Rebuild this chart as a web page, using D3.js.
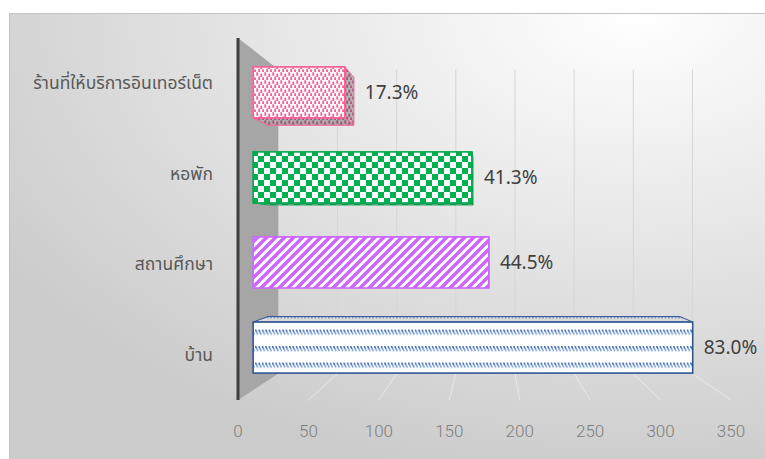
<!DOCTYPE html>
<html>
<head>
<meta charset="utf-8">
<script src="https://cdn.jsdelivr.net/npm/d3@7"></script>
<style>
  html, body { margin: 0; padding: 0; background: #ffffff; }
  svg { display: block; }
</style>
</head>
<body>
<svg id="chart" width="765" height="459"></svg>
<script>
// Places where respondents use the internet (top to bottom)
const categories = ['ร้านที่ให้บริการอินเทอร์เน็ต', 'หอพัก', 'สถานศึกษา', 'บ้าน'];
// Share of respondents, percent
const percents = [17.3, 41.3, 44.5, 83.0];
// Number of respondents; bar length is the count of respondents
const respondents = 400;
// Value axis tick labels
const xTicks = [0, 50, 100, 150, 200, 250, 300, 350];

const svg = d3.select('#chart');
const defs = svg.append('defs');

const labelFont = '"Noto Sans Thai", "Leelawadee UI", Tahoma, "DejaVu Sans", "Noto Sans", sans-serif';
const numFont = '"Noto Sans", "Open Sans", sans-serif';
const tickFont = 'Roboto, "Noto Sans", sans-serif';

// Perspective: front plane is where the axis sits, deeper planes shrink toward a vanishing point
const vx = 490, vy = 235;
const S_WALL_BACK = 0.84, S_BAR_FRONT = 0.94, S_BAR_BACK = 0.881;
const proj = (xf, yf, s) => [vx + s * (xf - vx), vy + s * (yf - vy)];

const x = d3.scaleLinear().domain([0, 350]).range([238, 731]);
const y = d3.scaleBand().domain(categories).range([38, 400]).paddingInner(0.4).paddingOuter(0.2);

// ---- background
const bg = defs.append('radialGradient').attr('id', 'bgGrad')
  .attr('cx', '78%').attr('cy', '0%').attr('r', '95%');
bg.append('stop').attr('offset', '0%').attr('stop-color', '#ffffff');
bg.append('stop').attr('offset', '100%').attr('stop-color', '#cbcbcb');

svg.append('rect').attr('x', 9.5).attr('y', 13.5).attr('width', 800).attr('height', 500)
  .attr('fill', 'url(#bgGrad)').attr('stroke', '#c4c4c4').attr('stroke-width', 1);

// ---- fill patterns
function tile(id, w, h) {
  return defs.append('pattern').attr('id', id).attr('patternUnits', 'userSpaceOnUse')
    .attr('width', w).attr('height', h);
}
// confetti
const pConf = tile('pConfetti', 8, 8);
pConf.append('rect').attr('width', 8).attr('height', 8).attr('fill', '#ffffff');
[[0.3, 0.3], [4.3, 1.6], [2.2, 4.6], [6.1, 5.4]].forEach(([a, b]) => {
  pConf.append('rect').attr('x', a).attr('y', b).attr('width', 1.9).attr('height', 3.4)
    .attr('fill', '#f0649b');
});
// checkerboard
const pChk = tile('pChecker', 12, 12);
pChk.append('rect').attr('width', 12).attr('height', 12).attr('fill', '#00b050');
pChk.append('rect').attr('x', 0).attr('y', 0).attr('width', 6).attr('height', 6).attr('fill', '#ffffff');
pChk.append('rect').attr('x', 6).attr('y', 6).attr('width', 6).attr('height', 6).attr('fill', '#ffffff');
// wide upward diagonal
const pStr = tile('pStripe', 9, 9);
pStr.append('rect').attr('width', 9).attr('height', 9).attr('fill', '#ffffff');
pStr.append('path').attr('d', 'M-1,10 L10,-1 M-2,2 L2,-2 M7,11 L11,7')
  .attr('stroke', '#cc66ff').attr('stroke-width', 3.4).attr('fill', 'none');
// dashed downward diagonal, in rows
const pDash = tile('pDash', 3.4, 16.5).attr('y', 329.5);
pDash.append('rect').attr('width', 3.4).attr('height', 16.5).attr('fill', '#ffffff');
pDash.append('path').attr('d', 'M0.3,0 L1.6,2.6').attr('stroke', '#2a5ca6').attr('stroke-width', 1.4);
pDash.append('path').attr('d', 'M1.6,2.6 L2.9,5.2').attr('stroke', '#6f9bd6').attr('stroke-width', 1.4);

const styles = [
  { fill: 'url(#pConfetti)', stroke: '#ff5c99' },
  { fill: 'url(#pChecker)', stroke: '#00a84b' },
  { fill: 'url(#pStripe)', stroke: '#cc66ff' },
  { fill: 'url(#pDash)', stroke: '#2f5597' }
];

// ---- back plane gridlines and floor lines
const grid = svg.append('g');
xTicks.filter(t => t > 0).forEach(t => {
  const a = proj(x(t), 38, S_WALL_BACK), b = proj(x(t), 400, S_WALL_BACK), c = proj(x(t), 400, 1);
  grid.append('line').attr('x1', a[0]).attr('y1', a[1]).attr('x2', b[0]).attr('y2', b[1])
    .attr('stroke', '#d6d6d6').attr('stroke-width', 1);
  grid.append('line').attr('x1', b[0]).attr('y1', b[1]).attr('x2', c[0]).attr('y2', c[1])
    .attr('stroke', '#ffffff').attr('stroke-opacity', 0.45).attr('stroke-width', 1);
});

// ---- side wall
const w0 = proj(x(0), 38, 1), w1 = proj(x(0), 38, S_WALL_BACK),
      w2 = proj(x(0), 400, S_WALL_BACK), w3 = proj(x(0), 400, 1);
svg.append('polygon').attr('points', [w0, w1, w2, w3].map(p => p.join(',')).join(' '))
  .attr('fill', '#a6a6a6');
svg.append('line').attr('x1', w0[0]).attr('y1', w0[1]).attr('x2', w3[0]).attr('y2', w3[1])
  .attr('stroke', '#3f3f3f').attr('stroke-width', 3);

// ---- bars as boxes
const bars = svg.append('g');
const poly = pts => pts.map(p => p.join(',')).join(' ');
categories.forEach((cat, i) => {
  const count = percents[i] * respondents / 100;
  const x0 = x(0), x1 = x(count);
  const y0 = y(cat), y1 = y(cat) + y.bandwidth();
  const F = (a, b) => proj(a, b, S_BAR_FRONT), B = (a, b) => proj(a, b, S_BAR_BACK);
  const st = styles[i];
  const g = bars.append('g');
  const faces = [];
  if (x1 < vx) faces.push({ pts: [F(x1, y0), B(x1, y0), B(x1, y1), F(x1, y1)], shade: 0.4 });   // right side
  if (y1 < vy) faces.push({ pts: [F(x0, y1), F(x1, y1), B(x1, y1), B(x0, y1)], shade: 0.45 });  // underside
  if (y0 > vy) faces.push({ pts: [F(x0, y0), F(x1, y0), B(x1, y0), B(x0, y0)], shade: 0.2 });   // top side
  faces.forEach(f => {
    g.append('polygon').attr('points', poly(f.pts)).attr('fill', st.fill);
    g.append('polygon').attr('points', poly(f.pts)).attr('fill', `rgba(70,70,70,${f.shade})`)
      .attr('stroke', st.stroke).attr('stroke-width', 1).attr('stroke-linejoin', 'round');
  });
  const f0 = F(x0, y0), f1 = F(x1, y1);
  g.append('rect').attr('x', f0[0]).attr('y', f0[1])
    .attr('width', f1[0] - f0[0]).attr('height', f1[1] - f0[1])
    .attr('fill', st.fill).attr('stroke', st.stroke).attr('stroke-width', 1.6);

  // value label just past the outermost edge of the box
  const edge = Math.max(F(x1, y0)[0], B(x1, y0)[0]);
  svg.append('text').attr('x', edge + 11).attr('y', (f0[1] + f1[1]) / 2)
    .attr('dy', '0.35em').attr('font-family', numFont).attr('font-size', 19)
    .attr('fill', '#404040').text(percents[i].toFixed(1) + '%');

  // category label
  svg.append('text').attr('x', 213).attr('y', y(cat) + y.bandwidth() / 2)
    .attr('dy', '0.35em').attr('text-anchor', 'end').attr('font-family', labelFont)
    .attr('font-size', 17.5).attr('fill', '#595959').text(cat);
});

// ---- value axis labels
svg.append('g').selectAll('text').data(xTicks).join('text')
  .attr('x', d => x(d)).attr('y', 431).attr('dy', '0.35em').attr('text-anchor', 'middle')
  .attr('font-family', tickFont).attr('font-weight', 300).attr('font-size', 17)
  .attr('fill', '#7f7f7f')
  .text(d => d);
</script>
</body>
</html>
